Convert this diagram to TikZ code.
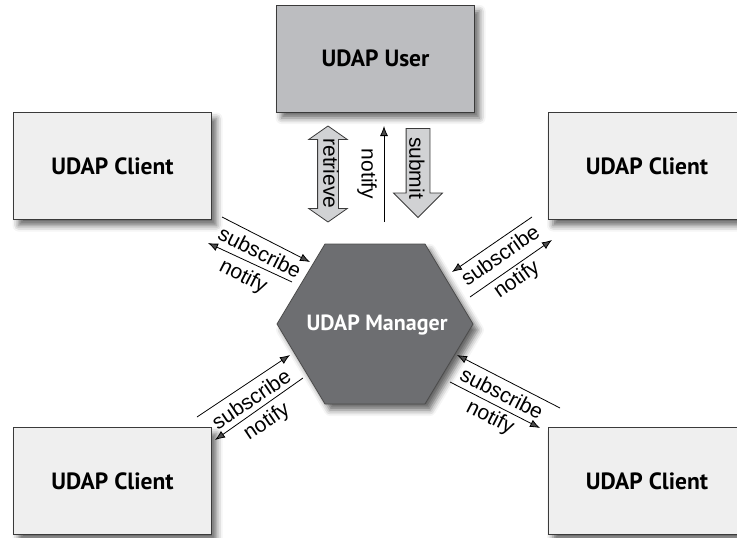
\documentclass[tikz,border=0pt]{standalone}
\usepackage{fontspec}
\setmainfont{Liberation Sans}
\newfontfamily\boxfont{PT Sans}
\usetikzlibrary{arrows.meta, shapes.arrows, shadows.blur}
\usepackage{xcolor}

\definecolor{clientgray}{HTML}{EFEFEF}
\definecolor{usergray}{HTML}{BCBDC0}
\definecolor{mgrgray}{HTML}{6D6E71}
\definecolor{arrowgray}{HTML}{D1D2D4}
\definecolor{edgegray}{HTML}{3A3A3A}

\tikzset{
  softshadow/.style={blur shadow={shadow xshift=5pt, shadow yshift=-6pt,
      shadow blur radius=6pt, shadow opacity=60}},
  client/.style={draw=edgegray, line width=1pt, fill=clientgray,
      minimum width=198pt, minimum height=107pt, inner sep=0pt, softshadow,
      font=\boxfont\bfseries\fontsize{23.5}{28}\selectfont},
  user/.style={client, fill=usergray},
  flow/.style={line width=0.8pt, -{Latex[length=10pt,width=8pt]}},
  lbl/.style={font=\fontsize{21}{25}\selectfont, inner sep=0pt},
  blockarrow/.style={draw=edgegray, line width=0.8pt, fill=arrowgray},
}

\begin{document}
\begin{tikzpicture}[x=1pt, y=-1pt]
  \useasboundingbox (0,0) rectangle (737,538);
  \clip (0,0) rectangle (737,538);

  % boxes round the manager
  \node[user]   (user) at (375.5,58.5) {UDAP User};
  \node[client] (cltl) at (112.5,166)  {UDAP Client};
  \node[client] (cltr) at (647,166)    {UDAP Client};
  \node[client] (clbl) at (112.5,481)  {UDAP Client};
  \node[client] (clbr) at (647,481)    {UDAP Client};

  % the manager hexagon
  \draw[fill=mgrgray, draw=black!70, line width=0.8pt, softshadow]
    (277,324) -- (325,244) -- (425,244) -- (473,324) -- (425,404) -- (325,404) -- cycle;
  \node[font=\boxfont\bfseries\fontsize{22}{26}\selectfont, text=white] (mgr)
    at (377,325) {UDAP Manager};

  % user <-> manager
  \node[blockarrow, double arrow, rotate=-90, inner sep=0pt, inner ysep=10pt,
        minimum height=96pt, double arrow head extend=9pt,
        double arrow tip angle=110] (retr) at (328,174) {};
  \node[lbl, rotate=-90] (retrtxt) at (331,173.5) {retrieve};
  \node[blockarrow, single arrow, rotate=-90, inner sep=0pt, inner ysep=11.5pt,
        minimum height=89pt, single arrow head extend=12.5pt] (subm) at (418,167) {};
  \node[lbl, rotate=-90] (submtxt) at (417,168) {submit};
  \coordinate (nu1) at (384,222);
  \coordinate (nu2) at (384,126);
  \draw[flow] (nu1) -- (nu2);
  \node[lbl, rotate=-90] (nutxt) at (367,174) {notify};

  % top left client
  \coordinate (tl1) at (222,217);
  \coordinate (tl2) at (310,262);
  \coordinate (tl3) at (292,282);
  \coordinate (tl4) at (208,243);
  \draw[flow] (tl1) -- (tl2);
  \draw[flow] (tl3) -- (tl4);
  \node[lbl, rotate=-27] (tlsub) at (260,252) {subscribe};
  \node[lbl, rotate=-27] (tlnot) at (243,277) {notify};

  % top right client
  \coordinate (tr1) at (532,217);
  \coordinate (tr2) at (452,272);
  \coordinate (tr3) at (470,297);
  \coordinate (tr4) at (552,240);
  \draw[flow] (tr1) -- (tr2);
  \draw[flow] (tr3) -- (tr4);
  \node[lbl, rotate=35] (trsub) at (500,255) {subscribe};
  \node[lbl, rotate=35] (trnot) at (517,280) {notify};

  % bottom left client
  \coordinate (bl1) at (197,417);
  \coordinate (bl2) at (290,355);
  \coordinate (bl3) at (303,378);
  \coordinate (bl4) at (215,440);
  \draw[flow] (bl1) -- (bl2);
  \draw[flow] (bl3) -- (bl4);
  \node[lbl, rotate=34] (blsub) at (251,399) {subscribe};
  \node[lbl, rotate=34] (blnot) at (267,422) {notify};

  % bottom right client
  \coordinate (br1) at (560,408);
  \coordinate (br2) at (457,355);
  \coordinate (br3) at (450,382);
  \coordinate (br4) at (540,428);
  \draw[flow] (br1) -- (br2);
  \draw[flow] (br3) -- (br4);
  \node[lbl, rotate=-27] (brsub) at (502,393) {subscribe};
  \node[lbl, rotate=-27] (brnot) at (490,418) {notify};
\end{tikzpicture}
\end{document}
